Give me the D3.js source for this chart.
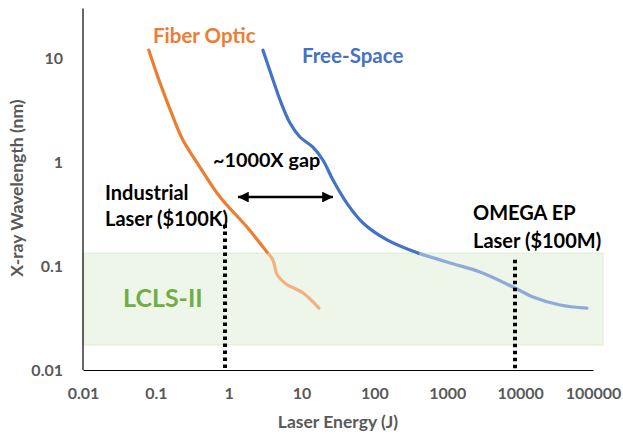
<!DOCTYPE html>
<html>
<head>
<meta charset="utf-8">
<script src="https://cdn.jsdelivr.net/npm/d3@7"></script>
<style>
  html, body { margin: 0; padding: 0; background: #fff; }
  svg { display: block; }
  text { font-family: Lato, "Open Sans", sans-serif; font-weight: bold; }
</style>
</head>
<body>
<svg id="chart" width="623" height="435"></svg>
<script>
// ---- data ----
const xTicks = [0.01, 0.1, 1, 10, 100, 1000, 10000, 100000];
const xTickLabels = ["0.01", "0.1", "1", "10", "100", "1000", "10000", "100000"];
const yTicks = [0.01, 0.1, 1, 10];
const yTickLabels = ["0.01", "0.1", "1", "10"];

// Fiber Optic (energy J, wavelength nm)
const fiberEnergy      = [0.080, 0.114, 0.172, 0.235, 0.40, 0.76, 1.78, 3.35];
const fiberWave        = [11.9, 5.76, 2.71, 1.63, 0.90, 0.46, 0.237, 0.136];
const fiberLightEnergy = [3.35, 4.05, 4.6, 6.0, 10.5, 17.3];
const fiberLightWave   = [0.136, 0.114, 0.083, 0.068, 0.055, 0.0394];

// Free-Space
const freeEnergy      = [2.95, 3.93, 5.06, 6.94, 9.5, 14.3, 19.7, 27, 42, 69.7, 149, 396];
const freeWave        = [11.9, 6.57, 3.95, 2.37, 1.74, 1.39, 1.04, 0.67, 0.40, 0.259, 0.178, 0.133];
const freeLightEnergy = [396, 1090, 2810, 7980, 15000, 35200, 82600];
const freeLightWave   = [0.133, 0.107, 0.0875, 0.0628, 0.0504, 0.0422, 0.0394];

// LCLS-II band
const bandEnergy = [0.01, 137000];
const bandWave   = [0.0174, 0.133];

// Laser markers
const markerNames  = ["Industrial", "OMEGA EP"];
const markerEnergy = [0.89, 8500];
const markerTop    = [0.25, 0.115];

// Gap arrow
const gapEnergy = [1.34, 27];
const gapWave = 0.46;

// ---- layout ----
const svg = d3.select("#chart");
const x = d3.scaleLog().domain([0.01, 100000]).range([83, 593]);
const y = d3.scaleLog().domain([0.01, 10]).range([370, 58]);
const yTop = 30;
const grey = "#595959";

// band
svg.append("rect")
  .attr("x", x(bandEnergy[0]))
  .attr("y", y(bandWave[1]))
  .attr("width", x(bandEnergy[1]) - x(bandEnergy[0]))
  .attr("height", y(bandWave[0]) - y(bandWave[1]))
  .attr("fill", "#eef6e9")
  .attr("stroke", "#dcecd2")
  .attr("stroke-width", 1);

svg.append("text")
  .attr("x", x(0.125)).attr("y", y(0.040))
  .attr("text-anchor", "middle")
  .attr("fill", "#70ad47")
  .attr("font-size", 25)
  .text("LCLS-II");

// axes
const xAxis = d3.axisBottom(x).tickValues(xTicks).tickSize(0)
  .tickFormat((d, i) => xTickLabels[i]);
const gx = svg.append("g").attr("transform", `translate(0,${y(0.01)})`).call(xAxis);
gx.select(".domain").attr("stroke", "#000").attr("stroke-width", 1.2);
gx.selectAll("text").attr("fill", grey).attr("font-size", 16)
  .attr("font-family", "Lato, sans-serif").attr("font-weight", "bold").attr("dy", "1.65em");

const yAxis = d3.axisLeft(y).tickValues(yTicks).tickSize(0)
  .tickFormat((d, i) => yTickLabels[i]);
const gy = svg.append("g").attr("transform", `translate(${x(0.01)},0)`).call(yAxis);
gy.select(".domain").remove();
gy.append("line").attr("x1", 0).attr("x2", 0).attr("y1", y(yTop)).attr("y2", y(0.01))
  .attr("stroke", "#000").attr("stroke-width", 1.2);
gy.selectAll("text").attr("fill", grey).attr("font-size", 16)
  .attr("font-family", "Lato, sans-serif").attr("font-weight", "bold").attr("x", -20);

svg.append("text").attr("x", 338).attr("y", 428)
  .attr("text-anchor", "middle").attr("fill", grey).attr("font-size", 17.5)
  .text("Laser Energy (J)");
svg.append("text").attr("transform", `translate(23,188) rotate(-90)`)
  .attr("text-anchor", "middle").attr("fill", grey).attr("font-size", 17.5)
  .text("X-ray Wavelength (nm)");

// curves
const line = d3.line().x(d => x(d[0])).y(d => y(d[1])).curve(d3.curveCatmullRom.alpha(0.5));
function draw(es, ws, color) {
  svg.append("path").datum(es.map((e, i) => [e, ws[i]]))
    .attr("d", line).attr("fill", "none").attr("stroke", color)
    .attr("stroke-width", 3.2).attr("stroke-linecap", "round");
}
draw(fiberLightEnergy, fiberLightWave, "#f2b183");
draw(fiberEnergy, fiberWave, "#ed7d31");
draw(freeLightEnergy, freeLightWave, "#8eaadb");
draw(freeEnergy, freeWave, "#4472c4");

// marker dotted lines
markerEnergy.forEach((e, i) => {
  svg.append("line")
    .attr("x1", x(e)).attr("x2", x(e))
    .attr("y1", y(markerTop[i])).attr("y2", y(0.01))
    .attr("stroke", "#000").attr("stroke-width", 4).attr("stroke-dasharray", "3.5,3.5");
});

// marker labels
function label(lines, px, py, size, gap) {
  const t = svg.append("text").attr("x", px).attr("y", py).attr("fill", "#000").attr("font-size", size);
  lines.forEach((s, i) => t.append("tspan").attr("x", px).attr("dy", i === 0 ? 0 : gap).text(s));
}
label(["Industrial", "Laser ($100K)"], 105, 200, 20, 26);
label(["OMEGA EP", "Laser ($100M)"], 473, 220, 20, 28);

// series labels
svg.append("text").attr("x", 153).attr("y", 43).attr("fill", "#ed7d31").attr("font-size", 20.5).text("Fiber Optic");
svg.append("text").attr("x", 302).attr("y", 63).attr("fill", "#4472c4").attr("font-size", 20.5).text("Free-Space");

// gap arrow
const defs = svg.append("defs");
defs.append("marker").attr("id", "ah").attr("viewBox", "0 0 10 10")
  .attr("refX", 10).attr("refY", 5).attr("markerWidth", 4.5).attr("markerHeight", 4.5)
  .attr("markerUnits", "strokeWidth").attr("orient", "auto-start-reverse")
  .append("path").attr("d", "M0,0 L10,5 L0,10 Z").attr("fill", "#000");
svg.append("line")
  .attr("x1", x(gapEnergy[0])).attr("x2", x(gapEnergy[1]))
  .attr("y1", y(gapWave)).attr("y2", y(gapWave))
  .attr("stroke", "#000").attr("stroke-width", 2.4)
  .attr("marker-start", "url(#ah)").attr("marker-end", "url(#ah)");
svg.append("text").attr("x", 213).attr("y", 167).attr("fill", "#000").attr("font-size", 19.8).text("~1000X gap");
</script>
</body>
</html>
